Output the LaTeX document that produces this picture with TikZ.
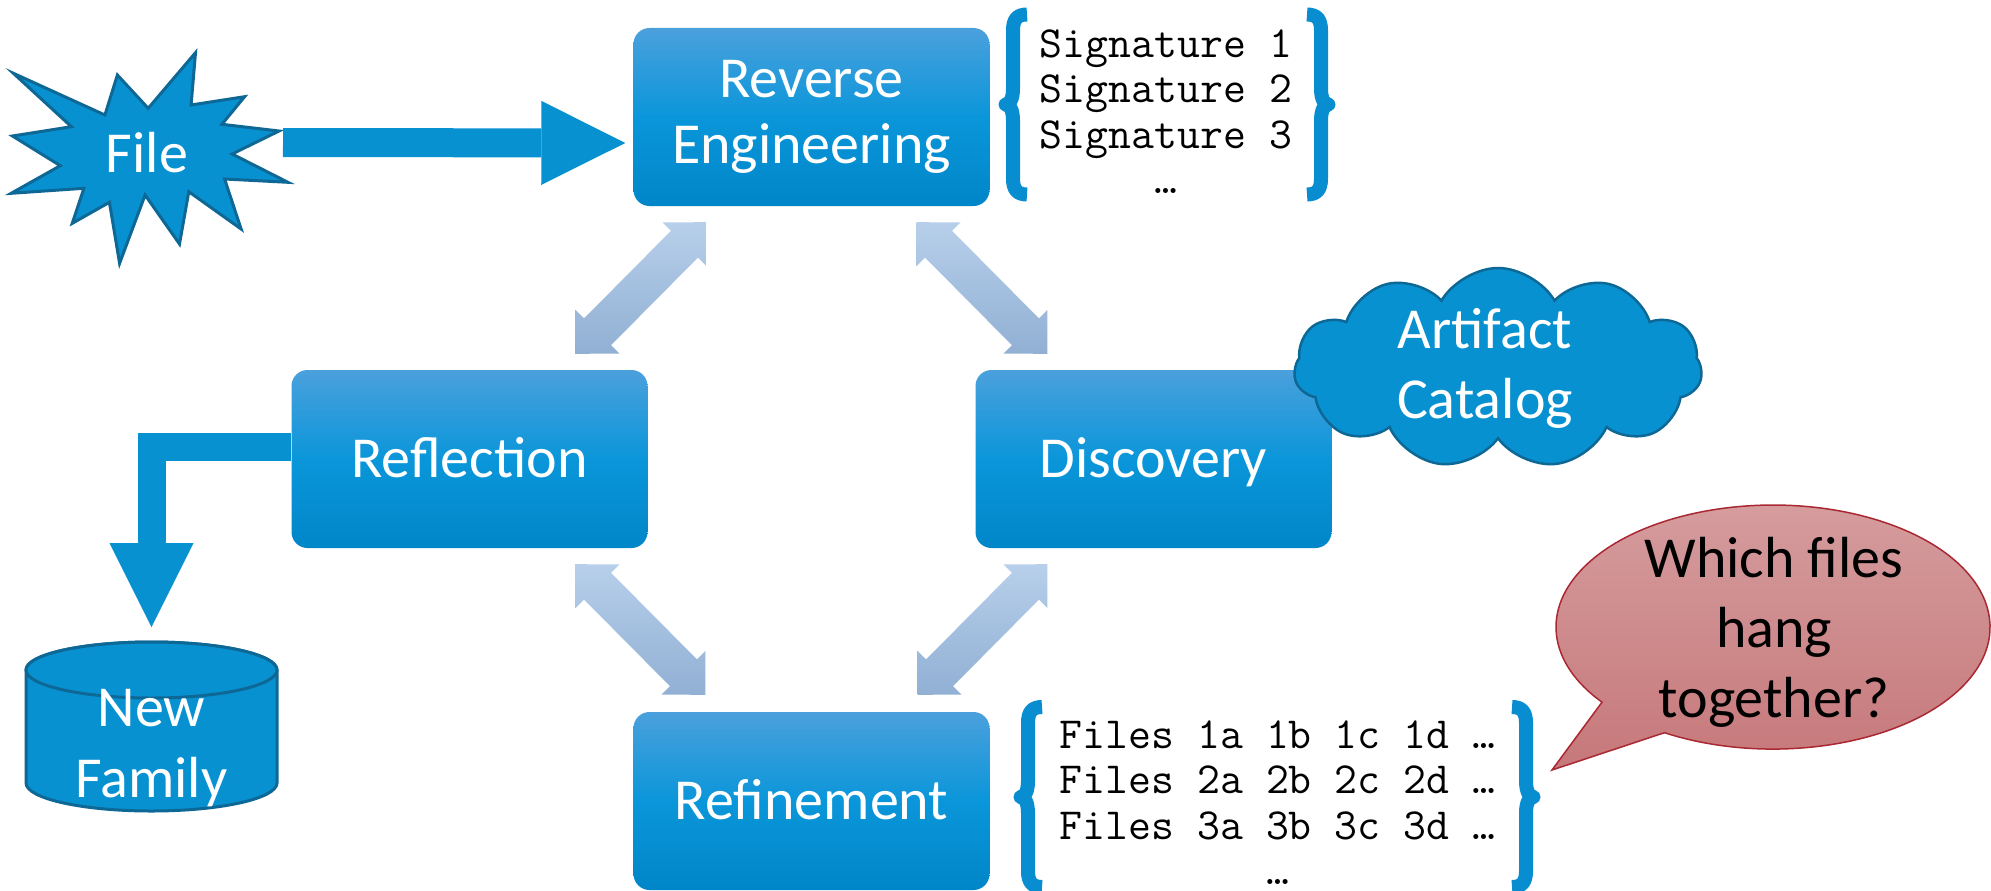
\documentclass[tikz,border=0pt]{standalone}
\usepackage{fontspec}
\setmainfont{Carlito}
\usetikzlibrary{calc,arrows.meta,shapes.symbols}
\definecolor{boxtop}{RGB}{75,160,220}
\definecolor{boxmid}{RGB}{10,150,218}
\definecolor{boxbot}{RGB}{0,134,200}
\definecolor{solidblue}{RGB}{8,145,208}
\definecolor{edgeblue}{RGB}{14,104,150}
\definecolor{bracecol}{RGB}{8,142,208}
\definecolor{dbltop}{RGB}{183,207,234}
\definecolor{dblbot}{RGB}{145,176,212}
\definecolor{bubtop}{RGB}{214,158,160}
\definecolor{bubbot}{RGB}{198,120,122}
\definecolor{bubedge}{RGB}{170,40,50}
\newcommand\stacklines[1]{\begin{tabular}{@{}c@{}}#1\end{tabular}}
\newcommand\dblarrow[2]{%
  \path[dblarrowstyle] (#1)
  -- ($(#1)!43.84pt!45:(#2)$)
  -- ($(#1)!31pt!(#2)!19pt!90:(#2)$)
  -- ($(#2)!31pt!(#1)!19pt!-90:(#1)$)
  -- ($(#2)!43.84pt!-45:(#1)$)
  -- (#2)
  -- ($(#2)!43.84pt!45:(#1)$)
  -- ($(#2)!31pt!(#1)!19pt!90:(#1)$)
  -- ($(#1)!31pt!(#2)!19pt!-90:(#2)$)
  -- ($(#1)!43.84pt!-45:(#2)$)
  -- cycle;}
\newcommand\curlybrace[3]{%
  \begin{scope}[shift={(#1,#2)}, xscale=#3]
  \draw[bracestroke] (29,-90) .. controls (19,-90) and (15,-85) .. (15,-74)
    -- (15,-16) .. controls (15,-6) and (12,0) .. (7.5,0)
    .. controls (12,0) and (15,6) .. (15,16)
    -- (15,74) .. controls (15,85) and (19,90) .. (29,90);
  \end{scope}}
\begin{document}
\begin{tikzpicture}[x=1pt,y=-1pt,
  stepbox/.style={rectangle, rounded corners=16pt, minimum width=356pt, minimum height=178pt,
    inner sep=0pt, text=white, font=\fontsize{58}{66}\selectfont,
    top color=boxtop, bottom color=boxbot, middle color=boxmid},
  oneline/.style={text height=36pt, text depth=0pt},
  dblarrowstyle/.style={top color=dbltop, bottom color=dblbot},
  blockarrow/.style={draw=solidblue, line width=29pt, line join=miter,
    -{Triangle[length=84pt,width=84pt,line width=0pt,fill=solidblue]}},
  solidshape/.style={fill=solidblue, draw=edgeblue, line width=3pt, line join=miter},
  bracestroke/.style={draw=bracecol, line width=14pt, line cap=butt, line join=round},
  bubblestyle/.style={top color=bubtop, bottom color=bubbot, draw=bubedge, line width=1.5pt},
  whitetext/.style={text=white, inner sep=0pt},
  monotext/.style={inner sep=0pt, text=black, font=\ttfamily\fontsize{44.5}{45.5}\selectfont}
]
\useasboundingbox (0,0) rectangle (1991,891);
\fill[white] (0,0) rectangle (1991,891);

% main boxes
\node[stepbox] (re) at (811.5,117) {\stacklines{Reverse\\Engineering}};
\node[stepbox, oneline] (refl) at (469.5,459) {Reflection};
\node[stepbox, oneline] (disc) at (1153.5,459) {Discovery};
\node[stepbox, oneline] (refn) at (811.5,801) {Refinement};

% double arrows
\coordinate (a1) at ($(re.south west)+(73,16)$);
\coordinate (b1) at ($(refl.north east)+(-72,-16)$);
\coordinate (a2) at ($(re.south east)+(-73,16)$);
\coordinate (b2) at ($(disc.north west)+(72,-16)$);
\coordinate (a3) at ($(refl.south east)+(-72,16)$);
\coordinate (b3) at ($(refn.north west)+(72,-17)$);
\coordinate (a4) at ($(disc.south west)+(72,16)$);
\coordinate (b4) at ($(refn.north east)+(-72,-17)$);
\dblarrow{a1}{b1}
\dblarrow{a2}{b2}
\dblarrow{a3}{b3}
\dblarrow{a4}{b4}

% starburst "File"
\filldraw[solidshape] (13.4,73.3) -- (104.9,115) -- (117.4,75) -- (148.2,108.3) -- (195.5,52.7)
  -- (191.1,105) -- (244.6,96.7) -- (221.9,124.3) -- (279,131) -- (232.1,154) -- (287.9,182.3)
  -- (224.6,179) -- (241.1,229) -- (188.8,191.7) -- (179.5,244) -- (145.1,195) -- (119.6,263.3)
  -- (109.4,202.3) -- (72.3,223.3) -- (83.9,188.3) -- (11.2,193.3) -- (60.3,165.7) -- (12.5,136)
  -- (71.4,126.7) -- cycle;
\node[whitetext, anchor=base, font=\fontsize{58}{66}\selectfont] (file) at (147,172) {File};
\coordinate (fileout) at (283,142.5);
\draw[blockarrow] (fileout) -- ($(re.west)+(-8,26)$);

% cylinder "New Family"
\coordinate (cyltop) at (151.5,642);
\filldraw[solidshape] (26,670) -- (26,783) arc[start angle=180,end angle=0,x radius=125.5,y radius=28]
  -- (277,670) arc[start angle=0,end angle=-180,x radius=125.5,y radius=28] -- cycle;
\draw[solidshape] (151.5,670) ellipse[x radius=125.5, y radius=28];
\node[whitetext, font=\fontsize{58}{71}\selectfont] (newfam) at (151.5,747.3) {\stacklines{New\\Family}};
\draw[blockarrow, line width=28pt] (refl.west |- 0,447) -| ($(cyltop)+(0,-15)$);

% cloud "Artifact Catalog"
\node[cloud, cloud puffs=11, cloud puff arc=120, aspect=2.2, minimum width=408pt, minimum height=200pt,
  inner sep=0pt, fill=solidblue, draw=edgeblue, line width=2.5pt] (cloudshape) at (1498,368) {};
\node[whitetext, font=\fontsize{58}{70}\selectfont] (catalog) at (1485,369) {\stacklines{Artifact\\Catalog}};

% signature list
\curlybrace{998}{104.5}{1}
\curlybrace{1336}{104.5}{-1}
\node[monotext] (sigs) at (1166,116.2) {\stacklines{Signature 1\\Signature 2\\Signature 3\\…}};

% files list
\curlybrace{1013}{797}{1}
\curlybrace{1541}{797}{-1}
\node[monotext] (files) at (1277.5,807.2) {\stacklines{Files 1a 1b 1c 1d …\\Files 2a 2b 2c 2d …\\Files 3a 3b 3c 3d …\\…}};

% speech bubble
\path[bubblestyle] (1664.5,732.7) arc[start angle=120, end angle=-218, x radius=217, y radius=122]
  -- (1552,770) -- cycle;
\node[inner sep=0pt, text=black, font=\fontsize{58}{70}\selectfont] (question) at (1774,633)
  {\stacklines{Which files\\hang\\together?}};
\end{tikzpicture}
\end{document}
